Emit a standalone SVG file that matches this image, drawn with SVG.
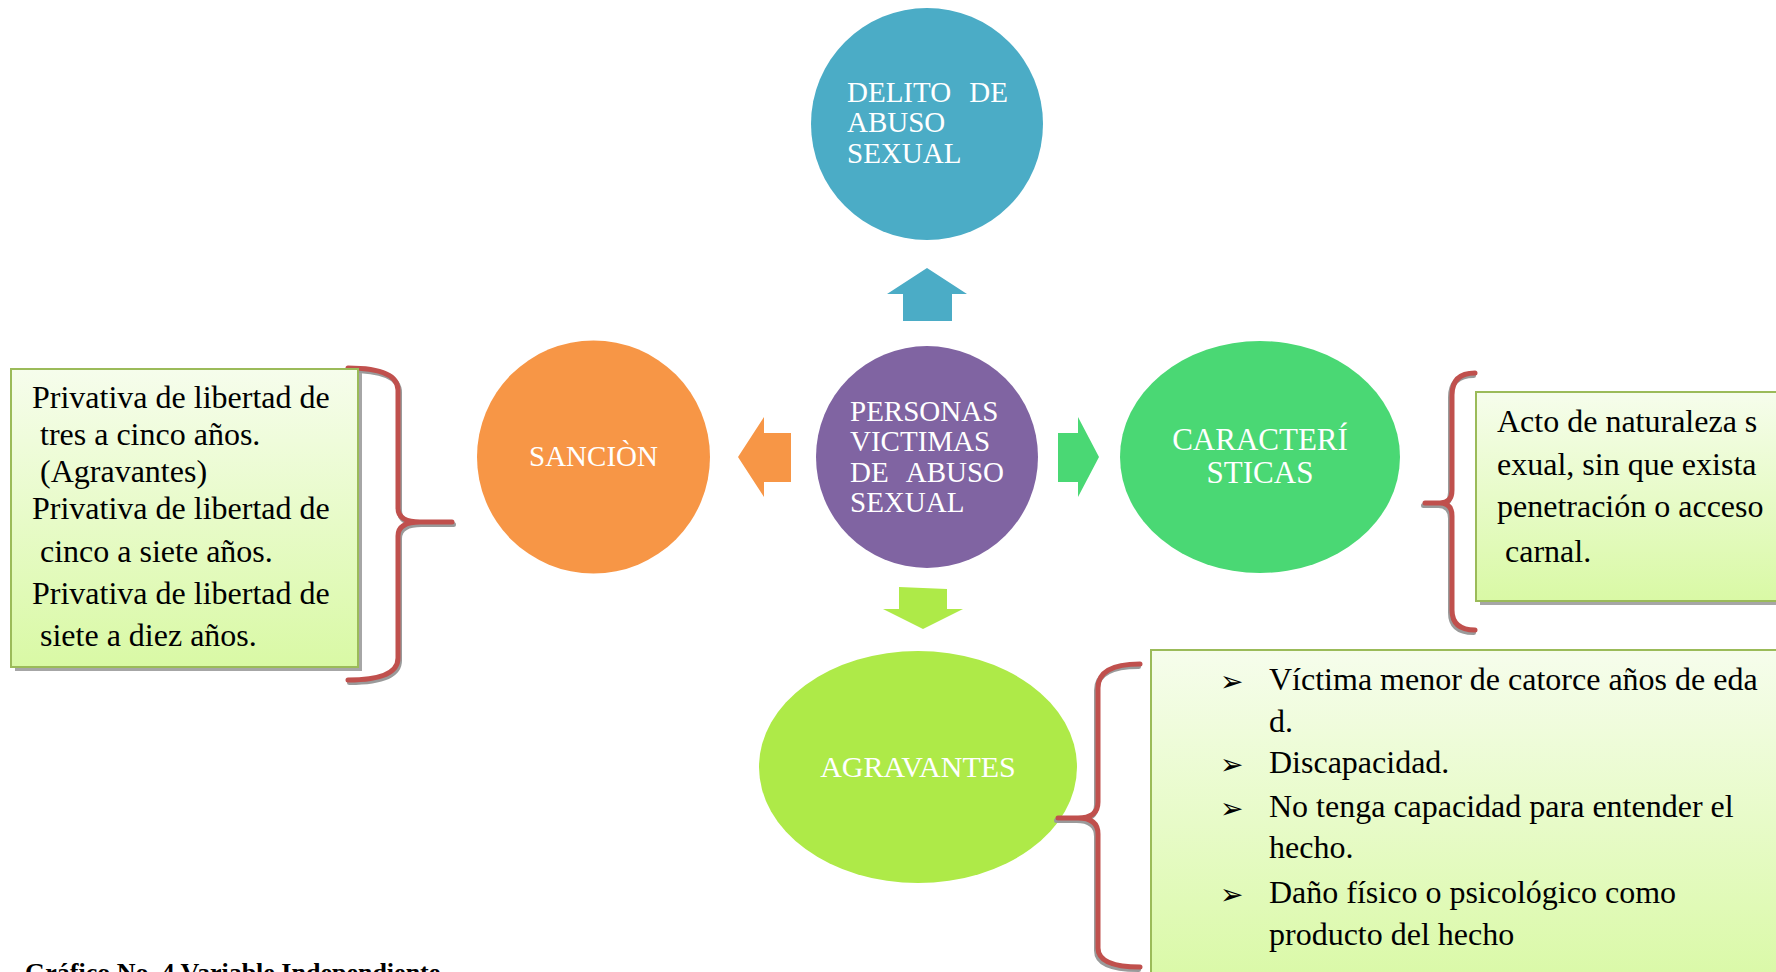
<svg xmlns="http://www.w3.org/2000/svg" width="1776" height="972" viewBox="0 0 1776 972">
<defs>
<linearGradient id="boxg" x1="0" y1="0" x2="0" y2="1">
<stop offset="0" stop-color="#f6fdec"/>
<stop offset="1" stop-color="#d9f9a5"/>
</linearGradient>
<style>
.ct{font-family:"Liberation Serif","Times New Roman",serif;fill:#ffffff;font-size:29px}
.bt{font-family:"Liberation Serif","Times New Roman",serif;fill:#000000;font-size:32px}
.box{fill:url(#boxg);stroke:#9bbb59;stroke-width:2}
.shadow{fill:#a6a6a6}
.br{fill:none;stroke:#c0504d;stroke-width:5;stroke-linecap:round;stroke-linejoin:round}
.brs{fill:none;stroke:#9a9a9a;stroke-width:5;stroke-linecap:round;stroke-linejoin:round}
.bul{font-family:"DejaVu Sans",sans-serif;font-size:28px;fill:#000000}
</style>
</defs>
<rect width="1776" height="972" fill="#ffffff"/>

<g id="connectors">
<polygon points="927,268 967,294 952,294 952,321 903,321 903,294 887,294" fill="#4bacc6"/>
<polygon points="738,457 764,417 764,433 791,433 791,482 764,482 764,497" fill="#f79646"/>
<polygon points="1099,457 1078,417 1078,433 1058,433 1058,482 1078,482 1078,497" fill="#4ad874"/>
<polygon points="899,587 947,589 947,609 963,609 923,629 883,609 899,609" fill="#aeea48"/>
</g>

<g id="node-delito">
<circle cx="927" cy="124" r="116" fill="#4bacc6"/>
<text class="ct" x="847" y="102">DELITO</text>
<text class="ct" x="1008" y="102" text-anchor="end">DE</text>
<text class="ct" x="847" y="132">ABUSO</text>
<text class="ct" x="847" y="163">SEXUAL</text>
</g>

<g id="node-personas">
<circle cx="927" cy="457" r="111" fill="#8064a2"/>
<text class="ct" x="850" y="421">PERSONAS</text>
<text class="ct" x="850" y="451">VICTIMAS</text>
<text class="ct" x="850" y="482">DE</text>
<text class="ct" x="1004" y="482" text-anchor="end">ABUSO</text>
<text class="ct" x="850" y="512">SEXUAL</text>
</g>

<g id="node-sancion">
<circle cx="593.5" cy="457" r="116.5" fill="#f79646"/>
<text class="ct" x="593.5" y="466" text-anchor="middle">SANCIÒN</text>
</g>

<g id="node-caracteristicas">
<ellipse cx="1260" cy="457" rx="140" ry="116" fill="#4ad874"/>
<text class="ct" x="1260" y="450" text-anchor="middle" style="font-size:31px">CARACTERÍ</text>
<text class="ct" x="1260" y="483" text-anchor="middle" style="font-size:31px">STICAS</text>
</g>

<g id="node-agravantes">
<ellipse cx="918" cy="767" rx="159" ry="116" fill="#aeea48"/>
<text class="ct" x="918" y="777" text-anchor="middle" style="font-size:30px">AGRAVANTES</text>
</g>

<g id="brace-left">
<path class="brs" transform="translate(1.5,2.5)" d="M348,368 Q398,368 398,390 L398,508 Q398,522 420,522 L452,522 M420,522 Q398,522 398,536 L398,658 Q398,680 348,680"/>
<path class="br" d="M348,368 Q398,368 398,390 L398,508 Q398,522 420,522 L452,522 M420,522 Q398,522 398,536 L398,658 Q398,680 348,680"/>
</g>

<g id="brace-right">
<path class="brs" transform="translate(-1.5,2.5)" d="M1475,373 Q1452,373 1452,395 L1452,490 Q1452,503 1440,503 L1425,503 M1440,503 Q1452,503 1452,516 L1452,610 Q1452,630 1475,630"/>
<path class="br" d="M1475,373 Q1452,373 1452,395 L1452,490 Q1452,503 1440,503 L1425,503 M1440,503 Q1452,503 1452,516 L1452,610 Q1452,630 1475,630"/>
</g>

<g id="brace-bottom">
<path class="brs" transform="translate(-1.5,2.5)" d="M1140,664 Q1098,664 1098,688 L1098,802 Q1098,818 1078,818 L1058,818 M1078,818 Q1098,818 1098,834 L1098,948 Q1098,967 1140,967"/>
<path class="br" d="M1140,664 Q1098,664 1098,688 L1098,802 Q1098,818 1078,818 L1058,818 M1078,818 Q1098,818 1098,834 L1098,948 Q1098,967 1140,967"/>
</g>

<g id="box-sancion">
<rect class="shadow" x="15" y="373" width="347" height="298"/>
<rect class="box" x="11" y="369" width="347" height="298"/>
<text class="bt" x="32" y="408">Privativa de libertad de</text>
<text class="bt" x="40" y="445">tres a cinco años.</text>
<text class="bt" x="40" y="482">(Agravantes)</text>
<text class="bt" x="32" y="519">Privativa de libertad de</text>
<text class="bt" x="40" y="562">cinco a siete años.</text>
<text class="bt" x="32" y="604">Privativa de libertad de</text>
<text class="bt" x="40" y="646">siete a diez años.</text>
</g>

<g id="box-caracteristicas">
<rect class="shadow" x="1480" y="396" width="310" height="209"/>
<rect class="box" x="1476" y="392" width="310" height="209"/>
<text class="bt" x="1497" y="432">Acto de naturaleza s</text>
<text class="bt" x="1497" y="475">exual, sin que exista</text>
<text class="bt" x="1497" y="517">penetración o acceso</text>
<text class="bt" x="1505" y="562">carnal.</text>
</g>

<g id="box-agravantes">
<rect class="shadow" x="1155" y="654" width="660" height="340"/>
<rect class="box" x="1151" y="650" width="660" height="340"/>
<text class="bul" x="1220" y="691">➢</text>
<text class="bul" x="1220" y="774">➢</text>
<text class="bul" x="1220" y="818">➢</text>
<text class="bul" x="1220" y="904">➢</text>
<text class="bt" x="1269" y="690">Víctima  menor de catorce años de eda</text>
<text class="bt" x="1269" y="732">d.</text>
<text class="bt" x="1269" y="773">Discapacidad.</text>
<text class="bt" x="1269" y="817">No tenga capacidad para entender el</text>
<text class="bt" x="1269" y="858">hecho.</text>
<text class="bt" x="1269" y="903">Daño físico o psicológico como</text>
<text class="bt" x="1269" y="945">producto del hecho</text>
</g>

<text x="25" y="981" style="font-family:'Liberation Serif','Times New Roman',serif;font-weight:bold;font-size:26px;fill:#000">Gráfico No. 4 Variable Independiente</text>
</svg>
